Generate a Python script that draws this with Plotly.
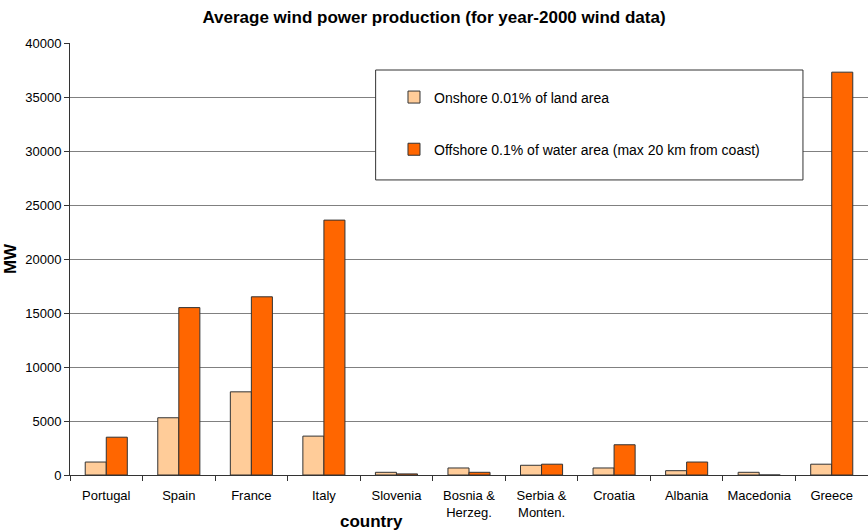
import plotly.graph_objects as go

countries = ["Portugal", "Spain", "France", "Italy", "Slovenia", "Bosnia &<br>Herzeg.",
             "Serbia &<br>Monten.", "Croatia", "Albania", "Macedonia", "Greece"]
onshore = [1200, 5300, 7700, 3600, 250, 650, 900, 650, 400, 250, 1000]
offshore = [3500, 15500, 16500, 23600, 100, 250, 1000, 2800, 1200, 0, 37300]
y_ticks = [0, 5000, 10000, 15000, 20000, 25000, 30000, 35000, 40000]

font = "Liberation Sans, Arial, sans-serif"

fig = go.Figure()
fig.add_trace(go.Bar(
    x=countries, y=onshore, name="Onshore 0.01% of land area",
    marker=dict(color="#FFCC99", line=dict(color="#333333", width=1)),
    legendgroup="a",
))
fig.add_trace(go.Bar(
    x=countries, y=offshore, name="Offshore 0.1% of water area (max 20 km from coast)",
    marker=dict(color="#FF6600", line=dict(color="#333333", width=1)),
    legendgroup="b",
))

# legend frame
fig.add_shape(type="rect", xref="paper", yref="paper",
              x0=0.383, x1=0.9185, y0=0.683, y1=0.9375,
              line=dict(color="#333333", width=1), fillcolor="white", layer="above")

# x-axis title placed beside the two-line tick labels
fig.add_annotation(text="<b>country</b>", xref="paper", yref="paper",
                   x=0.378, y=-0.107, xanchor="center", yanchor="middle",
                   showarrow=False, font=dict(size=17, family=font))

fig.update_layout(
    width=868, height=531,
    margin=dict(l=70, r=0, t=43, b=56),
    paper_bgcolor="white", plot_bgcolor="white",
    font=dict(family=font, size=13, color="black"),
    title=dict(text="<b>Average wind power production (for year-2000 wind data)</b>",
               x=0.5, xanchor="center", y=0.967, yanchor="middle",
               font=dict(size=17, family=font)),
    barmode="group", bargap=0.42, bargroupgap=0,
    showlegend=True,
    legend=dict(x=0.406, y=0.911, xanchor="left", yanchor="top",
                bgcolor="rgba(0,0,0,0)", borderwidth=0,
                traceorder="grouped", tracegroupgap=31, itemwidth=30,
                font=dict(size=14, family=font)),
    xaxis=dict(
        tickson="boundaries", ticks="outside", ticklen=5, tickcolor="#333333",
        showline=True, linecolor="#333333", linewidth=1,
        tickangle=0, tickfont=dict(size=13), ticklabelstandoff=8,
    ),
    yaxis=dict(
        title=dict(text="<b>MW</b>", font=dict(size=17), standoff=4),
        range=[0, 40000], tickvals=y_ticks, ticktext=[str(v) for v in y_ticks],
        ticks="outside", ticklen=5, tickcolor="#333333",
        showline=True, linecolor="#333333", linewidth=1,
        showgrid=True, gridcolor="#808080", gridwidth=1,
        zeroline=False, tickfont=dict(size=13),
    ),
)

fig.write_html("out.html")
